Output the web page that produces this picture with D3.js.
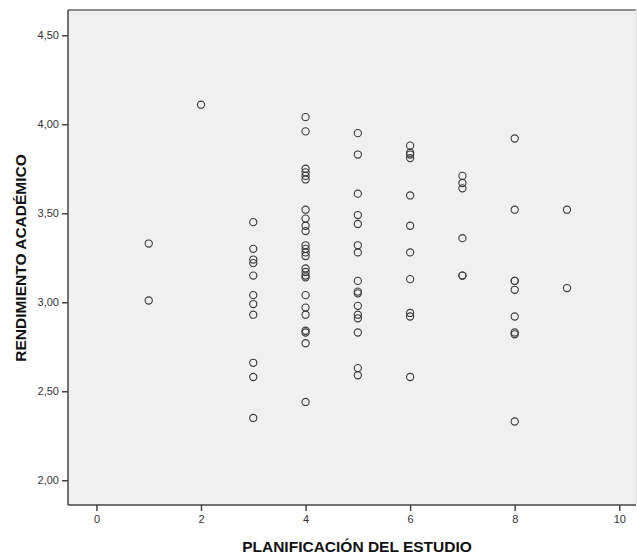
<!DOCTYPE html>
<html>
<head>
    <meta charset="utf-8">
    <title>Dispersión</title>
    <script src="https://cdn.jsdelivr.net/npm/d3@7"></script>
    <style>
        body { margin: 0; background: #fff; }
        text { font-family: "Liberation Sans", Arial, sans-serif; }
    </style>
</head>
<body>
    <svg width="637" height="556" id="mainsvg"></svg>
    <script>
        // planificación del estudio (x) y rendimiento académico (y), una lista por columna
        const planificacion = [1, 2, 3, 4, 5, 6, 7, 8, 9];
        const rendimiento = [
            [3.33, 3.01],
            [4.11],
            [3.45, 3.30, 3.24, 3.22, 3.15, 3.04, 2.99, 2.93, 2.66, 2.58, 2.35],
            [4.04, 3.96, 3.75, 3.73, 3.71, 3.69, 3.52, 3.47, 3.43, 3.40, 3.32, 3.30, 3.28, 3.26,
             3.19, 3.17, 3.15, 3.14, 3.04, 2.97, 2.93, 2.84, 2.83, 2.77, 2.44],
            [3.95, 3.83, 3.61, 3.49, 3.44, 3.32, 3.28, 3.12, 3.06, 3.05, 2.98, 2.93, 2.91, 2.83, 2.63, 2.59],
            [3.88, 3.84, 3.83, 3.81, 3.60, 3.43, 3.28, 3.13, 2.94, 2.92, 2.58],
            [3.71, 3.67, 3.64, 3.36, 3.15, 3.15],
            [3.92, 3.52, 3.12, 3.12, 3.07, 2.92, 2.83, 2.82, 2.33],
            [3.52, 3.08]
        ];
        const xTicks = [0, 2, 4, 6, 8, 10];
        const yTicks = [2.00, 2.50, 3.00, 3.50, 4.00, 4.50];

        const svg = d3.select('#mainsvg');
        const mLeft = 68, mRight = 636, mTop = 10, mBottom = 505;

        const x = d3.scaleLinear().domain([-0.544, 10.32]).range([mLeft, mRight]);
        const y = d3.scaleLinear().domain([1.861, 4.642]).range([mBottom, mTop]);

        const puntos = [];
        planificacion.forEach((p, i) => {
            rendimiento[i].forEach(r => puntos.push({ p: p, r: r }));
        });

        // fondo del área
        svg.append('rect')
            .attr('x', mLeft).attr('y', mTop)
            .attr('width', mRight - mLeft).attr('height', mBottom - mTop)
            .attr('fill', '#f0f0f0');

        // borde superior y derecho
        svg.append('line')
            .attr('x1', mLeft).attr('x2', mRight)
            .attr('y1', mTop).attr('y2', mTop)
            .attr('stroke', '#8c8c8c').attr('stroke-width', 2);
        svg.append('line')
            .attr('x1', mRight).attr('x2', mRight)
            .attr('y1', mTop).attr('y2', mBottom)
            .attr('stroke', '#d8d8d8').attr('stroke-width', 1);

        const fmt = v => d3.format('.2f')(v).replace('.', ',');

        const yAxis = svg.append('g')
            .attr('transform', `translate(${mLeft},0)`)
            .call(d3.axisLeft(y).tickValues(yTicks).tickFormat(fmt).tickSize(6).tickPadding(3));
        const xAxis = svg.append('g')
            .attr('transform', `translate(0,${mBottom})`)
            .call(d3.axisBottom(x).tickValues(xTicks).tickSize(6).tickPadding(4));

        [xAxis, yAxis].forEach(a => {
            a.select('.domain').attr('stroke', '#444').attr('stroke-width', 1.5);
            a.selectAll('.tick line').attr('stroke', '#444').attr('stroke-width', 1.5);
            a.selectAll('.tick text').attr('fill', '#333').style('font-size', '11px');
        });
        // quitar los extremos de la línea del dominio
        yAxis.select('.domain').attr('d', `M0,${mTop}V${mBottom}`);
        xAxis.select('.domain').attr('d', `M${mLeft},0H${mRight}`);

        svg.append('g').selectAll('circle').data(puntos).join('circle')
            .attr('cx', d => x(d.p))
            .attr('cy', d => y(d.r))
            .attr('r', 3.6)
            .attr('fill', 'none')
            .attr('stroke', '#3a3a3a')
            .attr('stroke-width', 1.1);

        svg.append('text')
            .attr('x', 357)
            .attr('y', 552)
            .attr('text-anchor', 'middle')
            .attr('font-weight', 'bold')
            .attr('font-size', 15.5)
            .attr('fill', '#111')
            .text('PLANIFICACIÓN DEL ESTUDIO');

        svg.append('text')
            .attr('transform', `translate(26,258) rotate(-90)`)
            .attr('text-anchor', 'middle')
            .attr('font-weight', 'bold')
            .attr('font-size', 15.5)
            .attr('fill', '#111')
            .text('RENDIMIENTO ACADÉMICO');
    </script>
</body>
</html>
